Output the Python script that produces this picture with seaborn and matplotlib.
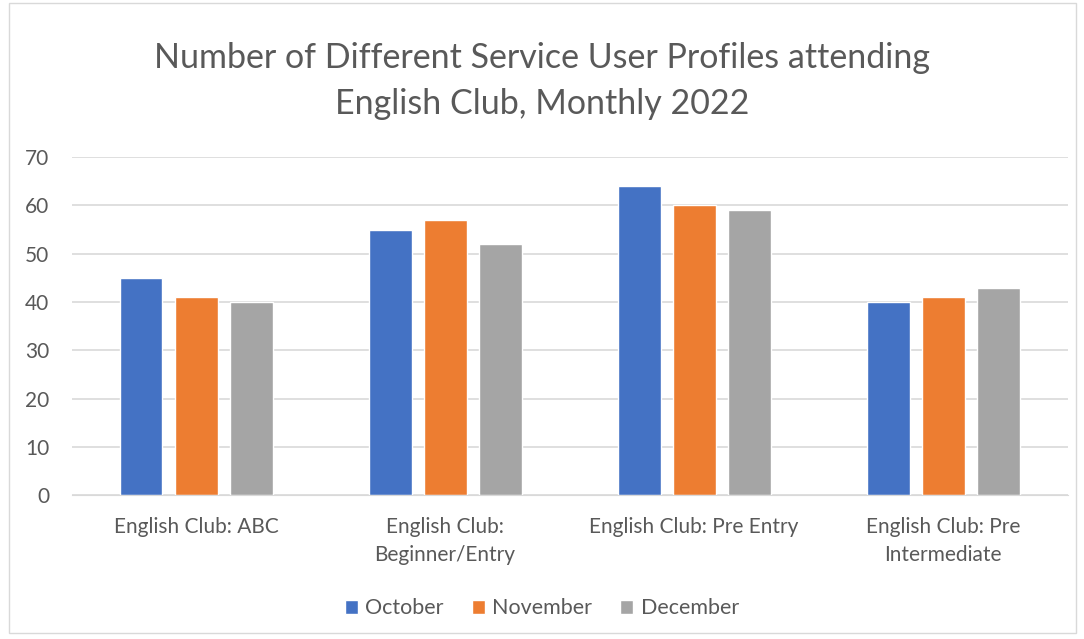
import matplotlib
matplotlib.use("Agg")
import matplotlib.pyplot as plt
import seaborn as sns
import pandas as pd
from matplotlib.patches import Rectangle

# data
clubs = ["English Club: ABC", "English Club:\nBeginner/Entry",
         "English Club: Pre Entry", "English Club: Pre\nIntermediate"]
months = ["October", "November", "December"]
october = [45, 55, 64, 40]
november = [41, 57, 60, 41]
december = [40, 52, 59, 43]
colors = ["#4472C4", "#ED7D31", "#A5A5A5"]

df = pd.DataFrame({"club": clubs * 3,
                   "month": [m for m in months for _ in clubs],
                   "value": october + november + december})

sns.set_style("white")
plt.rcParams["font.family"] = ["Lato", "DejaVu Sans"]
text_col = "#595959"

fig = plt.figure(figsize=(10.84, 6.39), dpi=100)
ax = fig.add_axes([0.066, 0.225, 0.919, 0.529])
sns.barplot(data=df, x="club", y="value", hue="month", palette=colors,
            width=0.663, gap=0.22, ax=ax, saturation=1)

ax.set_ylim(0, 70)
ax.set_xlim(-0.5, 3.5)
ax.set_yticks(range(0, 71, 10))
ax.yaxis.grid(True, color="#D9D9D9", linewidth=1.2)
ax.set_axisbelow(True)
for s in ["top", "right", "left"]:
    ax.spines[s].set_visible(False)
ax.spines["bottom"].set_color("#D9D9D9")
ax.tick_params(axis="both", length=0, labelsize=15, colors=text_col)
ax.tick_params(axis="x", pad=16)
ax.tick_params(axis="y", pad=16)
for lbl in ax.get_xticklabels():
    lbl.set_linespacing(1.45)
ax.set_xlabel("")
ax.set_ylabel("")

fig.suptitle("Number of Different Service User Profiles attending\nEnglish Club, Monthly 2022",
             y=0.934, fontsize=24.5, color=text_col, linespacing=1.55)

ax.legend_.remove()
handles, labels = ax.get_legend_handles_labels()
fig.legend(handles, labels, loc="center", bbox_to_anchor=(0.5, 0.048), ncol=3,
           frameon=False, fontsize=15.5, handlelength=0.6, handleheight=0.6,
           handletextpad=0.35, columnspacing=1.3, labelcolor=text_col)

fig.patches.append(Rectangle((0.008, 0.01), 0.985, 0.985, transform=fig.transFigure,
                             fill=False, edgecolor="#D9D9D9", linewidth=1))

fig.savefig("out.png", dpi=100)
